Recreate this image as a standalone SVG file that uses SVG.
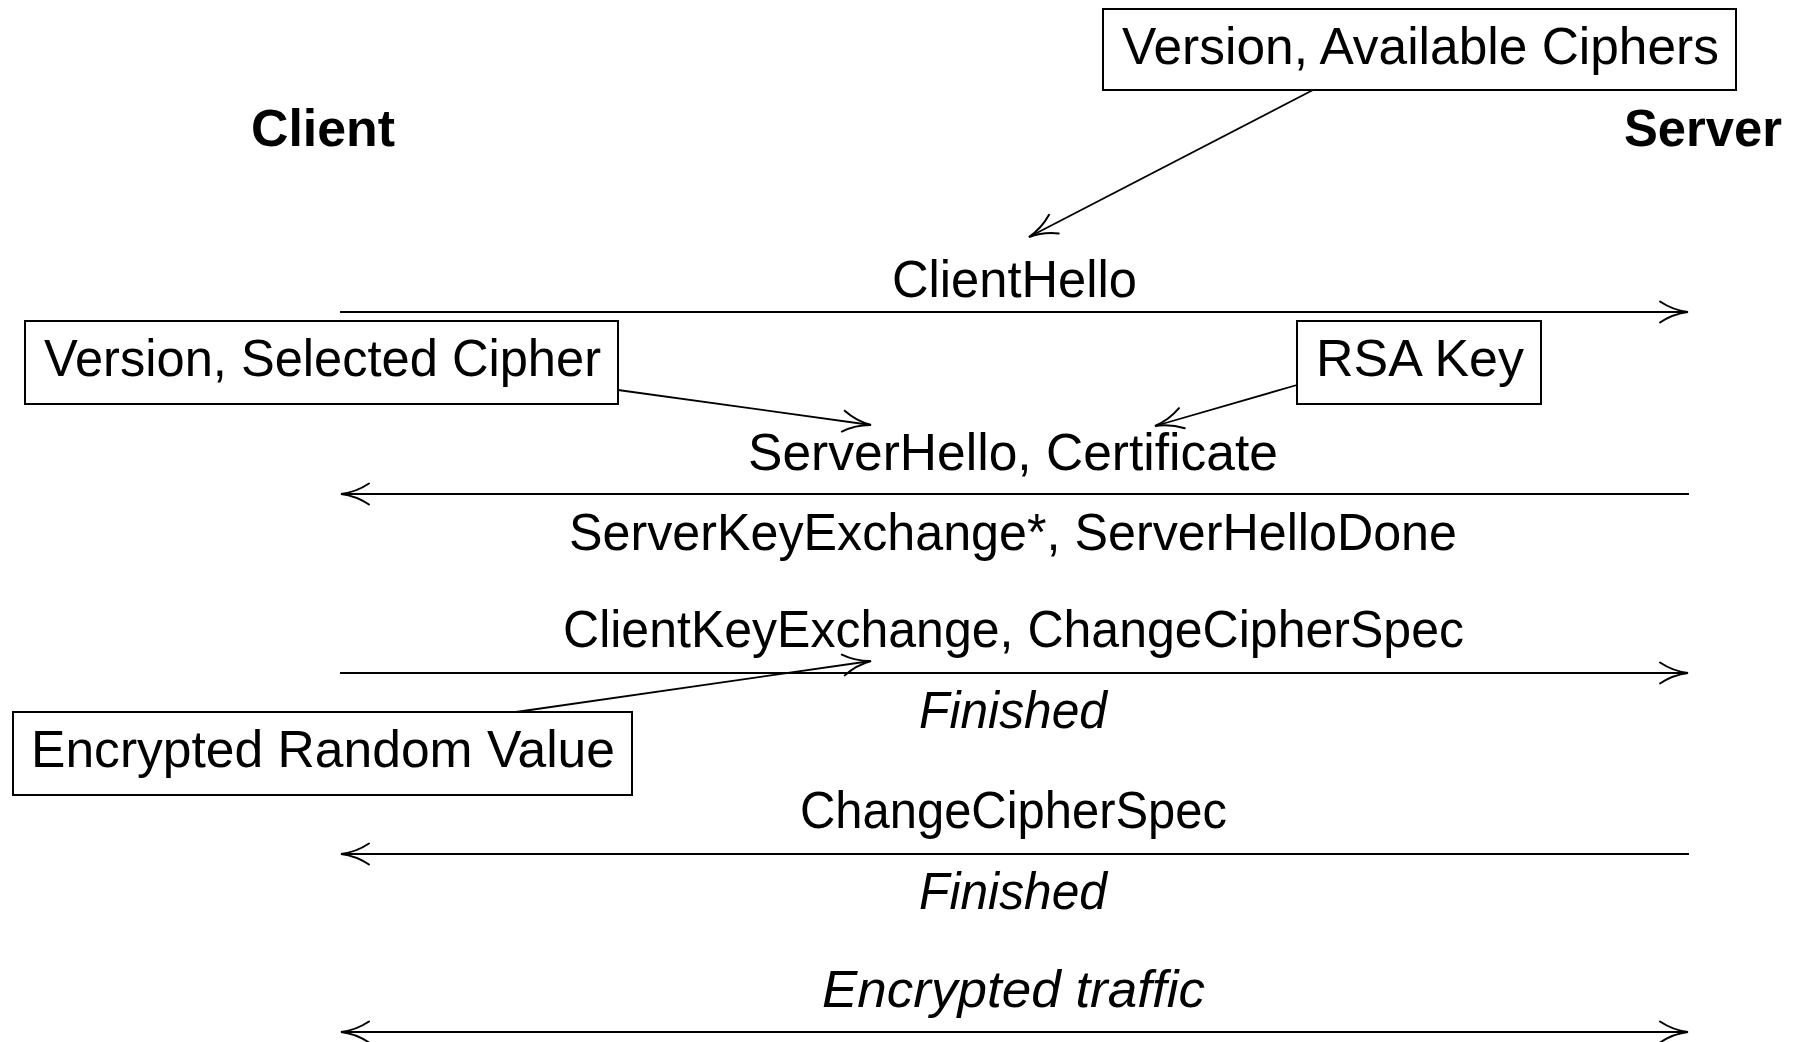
<svg xmlns="http://www.w3.org/2000/svg" width="1805" height="1042" viewBox="0 0 1805 1042">
  <style>
    text { font-family: "Liberation Sans", Arial, sans-serif; font-size: 52px; fill: #000; }
    .bold { font-weight: bold; }
    .it { font-style: italic; }
    .box { fill: #fff; stroke: #000; stroke-width: 2; }
    .msg { stroke: #000; stroke-width: 2; fill: none; marker-end: url(#tip); }
    .both { marker-start: url(#tip); }
    .note { stroke: #000; stroke-width: 1.8; fill: none; marker-end: url(#tip); }
  </style>
  <defs>
    <!-- curved open arrow tip, tip point at the origin -->
    <marker id="tip" markerUnits="userSpaceOnUse" viewBox="-32 -14 36 28" refX="0" refY="0" markerWidth="36" markerHeight="28" orient="auto-start-reverse" overflow="visible">
      <path d="M-28,-10.5 C-19,-4.5 -8,-1 0,0 C-8,1 -19,4.5 -28,10.5" fill="none" stroke="#000" stroke-width="2" stroke-linecap="round"/>
    </marker>
  </defs>

  <rect width="1805" height="1042" fill="#fff"/>

  <!-- participants -->
  <g id="client">
    <text class="bold" x="251" y="146" textLength="144" lengthAdjust="spacingAndGlyphs">Client</text>
  </g>
  <g id="server">
    <text class="bold" x="1624" y="146" textLength="158" lengthAdjust="spacingAndGlyphs">Server</text>
  </g>

  <!-- messages and annotation arrows -->
  <g id="connectors">
    <line class="msg" x1="340" y1="312" x2="1688" y2="312"/>
    <line class="msg" x1="1689" y1="494" x2="341" y2="494"/>
    <line class="msg" x1="340" y1="673" x2="1688" y2="673"/>
    <line class="msg" x1="1689" y1="854" x2="341" y2="854"/>
    <line class="msg both" x1="341" y1="1032" x2="1688" y2="1032"/>

    <line class="note" x1="1313" y1="90" x2="1029" y2="237"/>
    <line class="note" x1="618" y1="390" x2="871" y2="425"/>
    <line class="note" x1="1297" y1="385" x2="1155" y2="426"/>
    <line class="note" x1="516" y1="712" x2="871" y2="661"/>
  </g>

  <!-- message labels -->
  <g id="msg-clienthello">
    <text x="892" y="297" textLength="245" lengthAdjust="spacingAndGlyphs">ClientHello</text>
  </g>
  <g id="msg-serverhello">
    <text x="748" y="470" textLength="530" lengthAdjust="spacingAndGlyphs">ServerHello, Certificate</text>
    <text x="569" y="550" textLength="888" lengthAdjust="spacingAndGlyphs">ServerKeyExchange*, ServerHelloDone</text>
  </g>
  <g id="msg-clientkeyexchange">
    <text x="563" y="647" textLength="901" lengthAdjust="spacingAndGlyphs">ClientKeyExchange, ChangeCipherSpec</text>
    <text class="it" x="919" y="728" textLength="188" lengthAdjust="spacingAndGlyphs">Finished</text>
  </g>
  <g id="msg-changecipherspec">
    <text x="800" y="828" textLength="427" lengthAdjust="spacingAndGlyphs">ChangeCipherSpec</text>
    <text class="it" x="919" y="909" textLength="188" lengthAdjust="spacingAndGlyphs">Finished</text>
  </g>
  <g id="msg-traffic">
    <text class="it" x="822" y="1007" textLength="383" lengthAdjust="spacingAndGlyphs">Encrypted traffic</text>
  </g>

  <!-- annotation boxes -->
  <g id="note-available">
    <rect class="box" x="1103" y="9" width="633" height="81"/>
    <text x="1122" y="64" textLength="597" lengthAdjust="spacingAndGlyphs">Version, Available Ciphers</text>
  </g>
  <g id="note-selected">
    <rect class="box" x="25" y="321" width="593" height="83"/>
    <text x="44" y="376" textLength="557" lengthAdjust="spacingAndGlyphs">Version, Selected Cipher</text>
  </g>
  <g id="note-rsa">
    <rect class="box" x="1297" y="321" width="244" height="83"/>
    <text x="1316" y="376" textLength="208" lengthAdjust="spacingAndGlyphs">RSA Key</text>
  </g>
  <g id="note-random">
    <rect class="box" x="13" y="712" width="619" height="83"/>
    <text x="31" y="767" textLength="584" lengthAdjust="spacingAndGlyphs">Encrypted Random Value</text>
  </g>
</svg>
